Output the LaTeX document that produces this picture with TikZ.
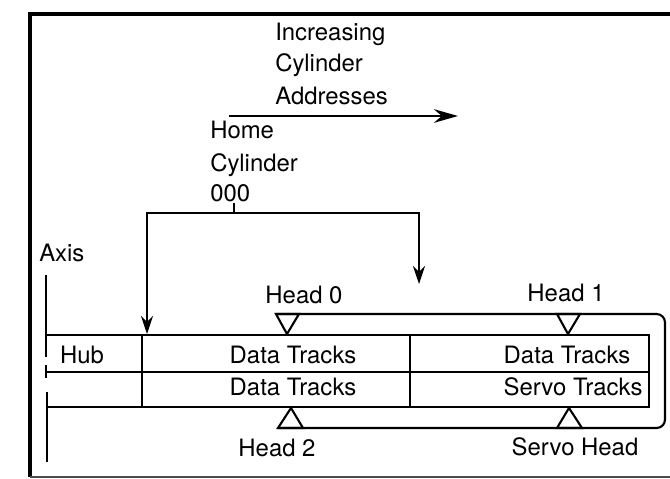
\documentclass[tikz,border=0pt]{standalone}
\usepackage{fontspec}
\setmainfont{TeX Gyre Heros}
\usetikzlibrary{positioning,calc,arrows.meta}

\tikzset{
  rail/.style={line width=1.5pt},
  headtri/.style={line width=1.5pt, line join=miter},
  lbl/.style={font=\fontsize{17}{20}\selectfont, inner sep=0pt},
  feed/.style={line width=1.2pt, -{Stealth[length=4.5mm,width=3mm]}},
}

\begin{document}
\begin{tikzpicture}[x=0.025cm, y=-0.025cm]
        \useasboundingbox (0,0) rectangle (670,479);

        % frame
        \draw[line width=2.2pt] (670,14) -- (30,14) -- (30,477);
        \draw[line width=1.2pt, black!70] (30,477) -- (670,477);

        % direction of cylinder addresses
        \node[lbl, anchor=base west] (incr) at (275,41) {Increasing};
        \node[lbl, anchor=base west] (cyl) at (275,72) {Cylinder};
        \node[lbl, anchor=base west] (addr) at (275,104) {Addresses};
        \coordinate (dirA) at (229,116);
        \coordinate (dirB) at (458,116);
        \draw[line width=1.8pt, -{Stealth[length=6mm,width=3.4mm]}] (dirA) -- (dirB);

        % home cylinder
        \node[lbl, anchor=base west] (home) at (210,138) {Home};
        \node[lbl, anchor=base west] (homecyl) at (210,171) {Cylinder};
        \node[lbl, anchor=base west] (zero) at (210,201) {000};
        \coordinate (tick) at (234,203);
        \coordinate (brM) at (234,213);
        \coordinate (brL) at (147,213);
        \coordinate (brR) at (419,213);
        \coordinate (hubedge) at (147,334);
        \coordinate (outer) at (419,284);
        \draw[line width=1.2pt] (tick) -- (brM);
        \draw[feed] (brM) -- (brL) -- (hubedge);
        \draw[feed] (brM) -- (brR) -- (outer);

        % axis
        \node[lbl, anchor=base west] (axis) at (39,261) {Axis};
        \draw[rail] (46,275) -- (46,357);
        \draw[rail] (46,365) -- (46,378);
        \draw[rail] (47,392) -- (47,462);

        % disk surfaces
        \draw[rail] (46,335) -- (649,335) -- (649,407) -- (48,407);
        \draw[rail] (46,372) -- (649,372);
        \draw[rail] (142,335) -- (142,407);
        \draw[rail] (410,335) -- (410,407);

        \node[lbl, anchor=base] (hub) at (82,363) {Hub};
        \node[lbl, anchor=base] (data0) at (293,363) {Data Tracks};
        \node[lbl, anchor=base] (data1) at (567,363) {Data Tracks};
        \node[lbl, anchor=base] (data2) at (293,395) {Data Tracks};
        \node[lbl, anchor=base] (servo) at (573,395) {Servo Tracks};

        % heads and access arm
        \draw[rail, rounded corners=6] (276,314) -- (665,314) -- (665,428) -- (278,428);
        \draw[headtri] (276,314) -- (299,314) -- (287,334) -- cycle;
        \draw[headtri] (557,314) -- (580,314) -- (568,334) -- cycle;
        \draw[headtri] (278,428) -- (303,428) -- (291,408) -- cycle;
        \draw[headtri] (557,428) -- (582,428) -- (569,408) -- cycle;

        \node[lbl, anchor=base] (head0) at (304,303) {Head 0};
        \node[lbl, anchor=base] (head1) at (566,301) {Head 1};
        \node[lbl, anchor=base] (head2) at (277,456) {Head 2};
        \node[lbl, anchor=base] (servohead) at (575,455) {Servo Head};

\end{tikzpicture}
\end{document}
